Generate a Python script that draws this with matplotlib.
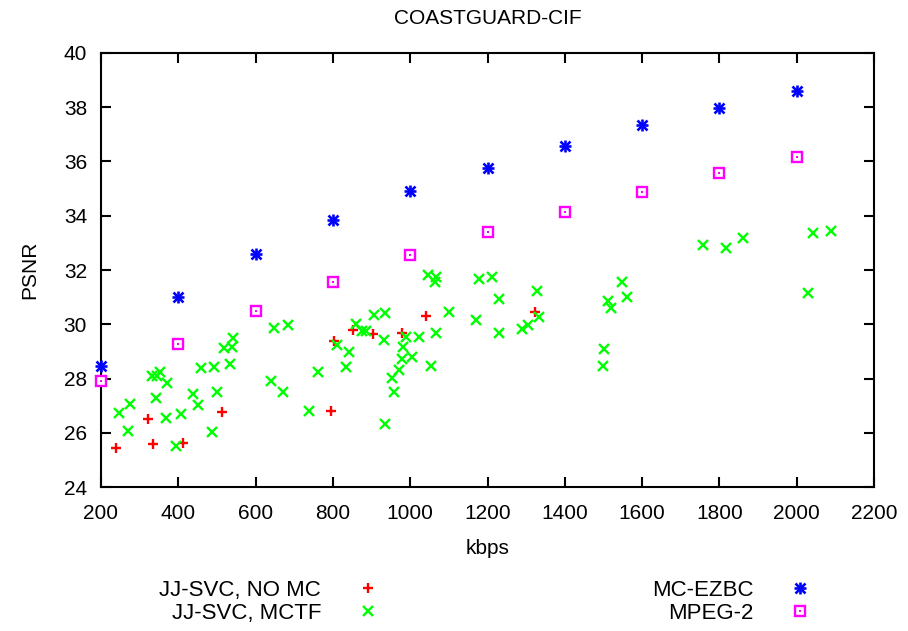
import matplotlib
matplotlib.use("Agg")
import matplotlib.pyplot as plt
from matplotlib.lines import Line2D

plt.rcParams['font.family'] = ['Liberation Sans', 'DejaVu Sans']

title = "COASTGUARD-CIF"
xlabel = "kbps"
ylabel = "PSNR"
labels = ["JJ-SVC, NO MC", "JJ-SVC, MCTF", "MC-EZBC", "MPEG-2"]

nomc_x = [238, 322, 334, 411, 512, 794, 803, 851, 903, 978, 1040, 1323]
nomc_y = [25.46, 26.51, 25.58, 25.62, 26.76, 26.81, 29.38, 29.79, 29.64, 29.69, 30.32, 30.47]

mctf_x = [648, 683, 542, 538, 518, 534, 493, 459, 353, 331, 346, 370, 640, 670, 342,
          439, 499, 450, 275, 247, 367, 406, 271, 486, 393,
          1047, 1068, 1064, 1178, 1212, 1231, 906, 936, 1100, 1169, 859, 874, 885, 811,
          842, 932, 988, 1023, 1067, 1231, 981, 980, 1005, 972, 952, 835, 1053, 762, 958,
          738, 935,
          1327, 1334, 1304, 1288, 1547, 1560, 1511, 1519, 1501, 1499,
          1758, 1816, 1861, 2041, 2090, 2028]
mctf_y = [29.85, 29.97, 29.48, 29.15, 29.11, 28.53, 28.44, 28.38, 28.25, 28.10, 28.10, 27.83, 27.92, 27.52, 27.28,
          27.43, 27.52, 27.03, 27.05, 26.72, 26.54, 26.70, 26.07, 26.02, 25.52,
          31.82, 31.75, 31.57, 31.67, 31.73, 30.92, 30.34, 30.40, 30.44, 30.16, 30.01, 29.77, 29.77, 29.24,
          28.97, 29.42, 29.52, 29.52, 29.69, 29.67, 29.16, 28.72, 28.80, 28.32, 28.03, 28.44, 28.46, 28.25, 27.52,
          26.81, 26.32,
          31.24, 30.26, 29.97, 29.83, 31.57, 30.99, 30.87, 30.59, 29.08, 28.46,
          32.92, 32.80, 33.17, 33.35, 33.44, 31.17]

rate_x = [200, 400, 600, 800, 1000, 1200, 1400, 1600, 1800, 2000]
ezbc_y = [28.47, 31.02, 32.59, 33.84, 34.92, 35.77, 36.58, 37.34, 37.98, 38.60]
mpeg2_y = [27.93, 29.26, 30.49, 31.55, 32.55, 33.39, 34.15, 34.87, 35.56, 36.15]

xticks = [200, 400, 600, 800, 1000, 1200, 1400, 1600, 1800, 2000, 2200]
yticks = [24, 26, 28, 30, 32, 34, 36, 38, 40]

RED, GREEN, BLUE, MAG = "#ff0000", "#00ff00", "#0000ff", "#ff00ff"
FS = 15

fig = plt.figure(figsize=(9.08, 6.31), dpi=100)
ax = fig.add_axes([101/908, 1 - 487.2/631, (874 - 101)/908, (487.2 - 52.8)/631])

ms = 7.4
ax.plot(nomc_x, nomc_y, ls='none', marker='+', ms=ms, mew=1.7, color=RED, clip_on=False, zorder=3)
ax.plot(mctf_x, mctf_y, ls='none', marker='x', ms=ms, mew=1.7, color=GREEN, clip_on=False, zorder=3)
ax.plot(rate_x, ezbc_y, ls='none', marker='+', ms=8.4, mew=1.9, color=BLUE, clip_on=False, zorder=4)
ax.plot(rate_x, ezbc_y, ls='none', marker='x', ms=7.2, mew=1.9, color=BLUE, clip_on=False, zorder=4)
ax.plot(rate_x, mpeg2_y, ls='none', marker='s', ms=7.0, mew=1.7, mfc='white', mec=MAG, clip_on=False, zorder=4)
ax.plot(rate_x, mpeg2_y, ls='none', marker='s', ms=1.5, mew=0, color=MAG, clip_on=False, zorder=5)

ax.set_xlim(200, 2200)
ax.set_ylim(24, 40)
ax.set_xticks(xticks)
ax.set_yticks(yticks)
ax.tick_params(direction='in', length=7, width=1.5, labelsize=FS, top=True, right=True)
ax.tick_params(axis='x', pad=12)
ax.tick_params(axis='y', pad=10)
for s in ax.spines.values():
    s.set_linewidth(1.5)

fig.text(487.5/908, 1 - 18/631, title, ha='center', va='center', fontsize=FS)
fig.text(487.5/908, 1 - 548/631, xlabel, ha='center', va='center', fontsize=FS)
fig.text(30/908, 1 - 270/631, ylabel, ha='center', va='center', rotation=90, fontsize=FS)

h_nomc = Line2D([], [], ls='none', marker='+', ms=ms, mew=1.7, color=RED)
h_mctf = Line2D([], [], ls='none', marker='x', ms=ms, mew=1.7, color=GREEN)
h_ezbc = (Line2D([], [], ls='none', marker='+', ms=8.4, mew=1.9, color=BLUE),
          Line2D([], [], ls='none', marker='x', ms=7.2, mew=1.9, color=BLUE))
h_mpeg = (Line2D([], [], ls='none', marker='s', ms=7.0, mew=1.7, mfc='white', mec=MAG),
          Line2D([], [], ls='none', marker='s', ms=1.5, mew=0, color=MAG))

common = dict(frameon=False, markerfirst=False, fontsize=16, handlelength=1.0,
              handletextpad=1.6, labelspacing=0.1, borderpad=0, borderaxespad=0,
              loc='upper right', bbox_transform=fig.transFigure)
leg1 = fig.legend([h_nomc, h_mctf], labels[:2], bbox_to_anchor=(379/908, 1 - 580/631), **common)
leg2 = fig.legend([h_ezbc, h_mpeg], labels[2:], bbox_to_anchor=(811/908, 1 - 580/631), **common)

fig.savefig("out.png", dpi=100)
